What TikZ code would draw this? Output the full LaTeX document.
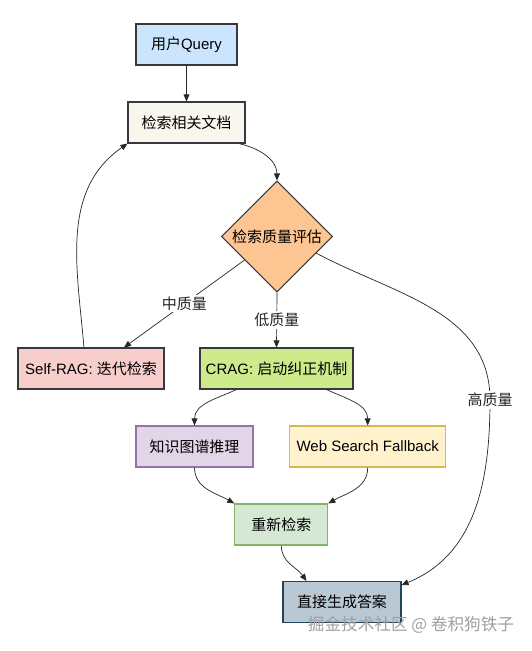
\documentclass[tikz,border=0pt]{standalone}
\usepackage{fontspec}
\setmainfont{Liberation Sans}
\newfontfamily\zh{Noto Sans CJK SC}
\usetikzlibrary{arrows.meta, shapes.geometric}

\definecolor{edgegray}{HTML}{36393D}
\definecolor{queryfill}{HTML}{CCE5FF}
\definecolor{retrfill}{HTML}{F9F7ED}
\definecolor{evalfill}{HTML}{FCC592}
\definecolor{selffill}{HTML}{F8CECC}
\definecolor{cragfill}{HTML}{CDEB8B}
\definecolor{kgfill}{HTML}{E1D5E7}
\definecolor{kgline}{HTML}{9673A6}
\definecolor{webfill}{HTML}{FFF2CC}
\definecolor{webline}{HTML}{D6B656}
\definecolor{redofill}{HTML}{D5E8D4}
\definecolor{redoline}{HTML}{82B366}
\definecolor{ansfill}{HTML}{BAC8D3}
\definecolor{ansline}{HTML}{23445D}

\begin{document}
\begin{tikzpicture}[
    x=0.03cm, y=-0.03cm,
    every node/.style={font=\fontsize{12.8}{15}\selectfont},
    >={Triangle[length=6pt, width=5pt]},
    box/.style={draw=#1, line width=0.9pt, minimum height=1.23cm, inner sep=2pt},
    judge/.style={draw=edgegray, line width=0.9pt, fill=evalfill, diamond, aspect=1,
                  minimum width=3.33cm, minimum height=3.33cm, inner sep=0pt},
    flow/.style={->, line width=0.6pt, black!85},
    lbl/.style={fill=white, inner sep=1.5pt},
]
\useasboundingbox (0,0) rectangle (531,651);

% === Entry ===
\node[box=edgegray, fill=queryfill, minimum width=3.03cm] (query) at (186.5,44.5) {{\zh 用户}Query};
\node[box=edgegray, fill=retrfill, minimum width=3.51cm] (retr) at (186.5,122.5) {\zh 检索相关文档};

% === Quality check ===
\node[judge] (eval) at (277,236.5) {\zh 检索质量评估};

% === Branches ===
\node[box=edgegray, fill=selffill, minimum width=4.38cm] (selfrag) at (91,368.5) {Self-RAG: {\zh 迭代检索}};
\node[box=edgegray, fill=cragfill, minimum width=4.59cm] (crag) at (276.5,368.5) {CRAG: {\zh 启动纠正机制}};

% === Corrective steps ===
\node[box=kgline, fill=kgfill, minimum width=3.51cm] (kg) at (194.5,446.5) {\zh 知识图谱推理};
\node[box=webline, fill=webfill, minimum width=4.68cm] (web) at (367.7,446.5) {Web Search Fallback};
\node[box=redoline, fill=redofill, minimum width=2.79cm] (redo) at (281.3,524.5) {\zh 重新检索};
\node[box=ansline, fill=ansfill, minimum width=3.54cm] (answer) at (342,602) {\zh 直接生成答案};

% === Connectors ===
\draw[flow] (query) -- (retr);
\draw[flow] (retr.-22) to[out=-12, in=90] (eval.north);
\draw[flow] (eval) -- node[lbl] {\zh 中质量} ([xshift=0.99cm]selfrag.north);
\draw[flow] (eval.south) -- node[lbl] {\zh 低质量} (crag.north);
\draw[flow] (eval.-23) to[out=-28, in=90] (490,400) node[lbl] {\zh 高质量}
    to[out=-90, in=22] ([yshift=-0.12cm]answer.north east);
\draw[flow] ([xshift=-0.21cm]selfrag.north) to[out=95, in=-145] (retr.south west);

\draw[flow] ([xshift=-1.2cm]crag.south) to[out=-155, in=90] (kg.north);
\draw[flow] ([xshift=1.5cm]crag.south) to[out=-25, in=90] (web.north);
\draw[flow] (kg.south) to[out=-90, in=150] (redo.north west);
\draw[flow] (web.south) to[out=-90, in=30] (redo.north east);
\draw[flow] (redo.south) to[out=-90, in=125] ([xshift=0.72cm]answer.north west);

% === Watermark ===
\node[text=gray!75, font=\fontsize{14.2}{16}\selectfont] (mark) at (411,625) {\zh 掘金技术社区 @ 卷积狗铁子};

\end{tikzpicture}
\end{document}
